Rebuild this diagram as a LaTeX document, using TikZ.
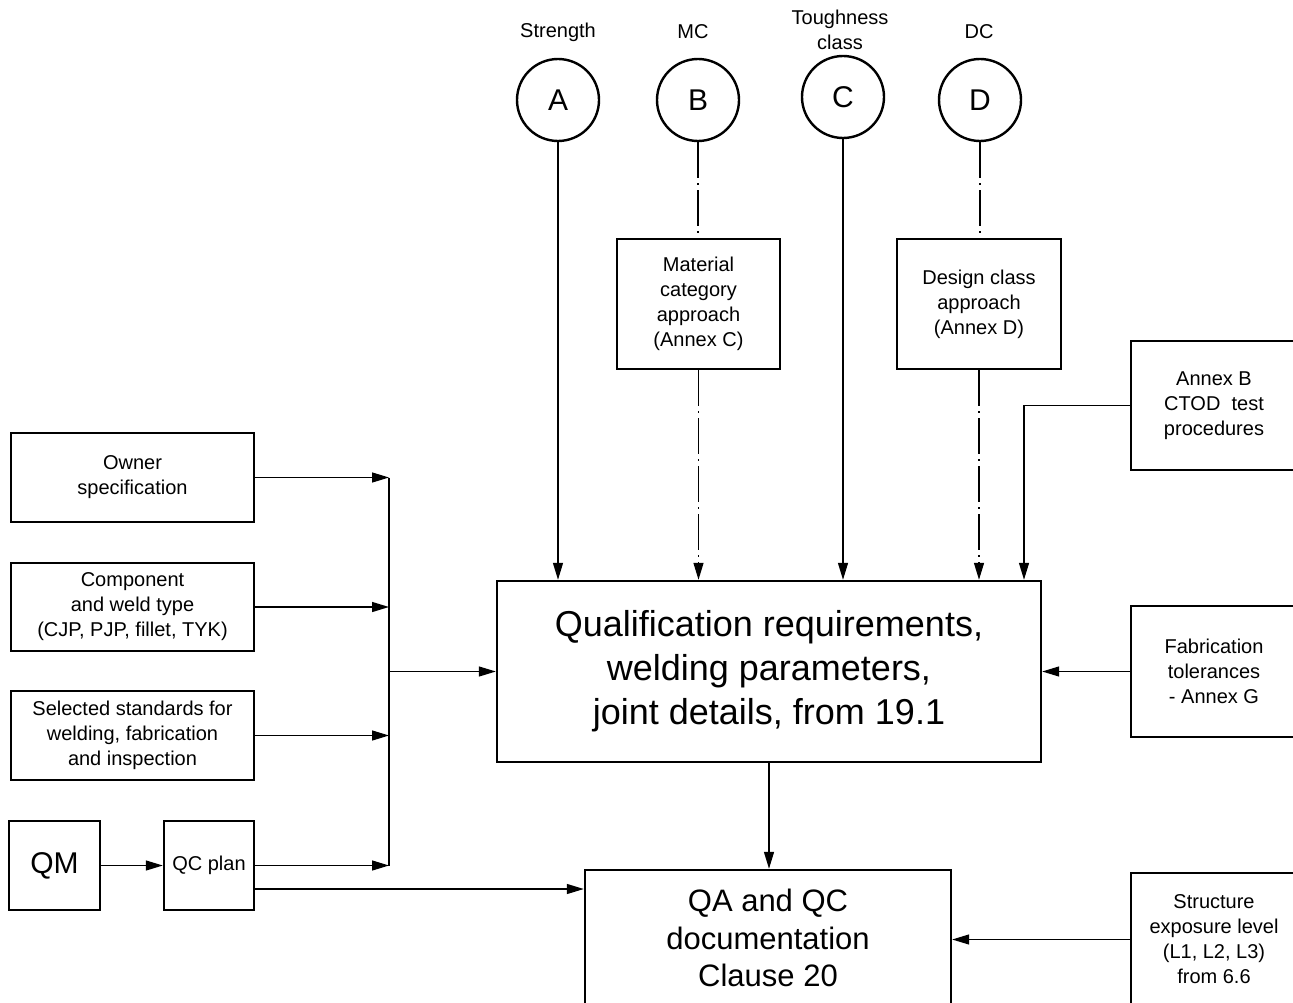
\documentclass[tikz,border=0pt]{standalone}
\usepackage{fontspec}
\setmainfont{Liberation Sans}
\usetikzlibrary{arrows.meta}
\begin{document}
\begin{tikzpicture}[x=1pt,y=-1pt,
  box/.style={draw, line width=2.4pt, inner sep=0pt, align=center, font=\fontsize{20}{25}\selectfont},
  circ/.style={draw, circle, line width=2.4pt, minimum size=82pt, inner sep=0pt, font=\fontsize{30}{30}\selectfont},
  lbl/.style={inner sep=0pt, align=center, font=\fontsize{20}{25}\selectfont},
  conn/.style={line width=1.3pt},
  arr/.style={conn, -{Triangle[length=17pt,width=10pt]}},
  dd/.style={dash pattern=on 36pt off 5pt on 2pt off 5pt}]
\useasboundingbox (0,0) rectangle (1293,1003);
% circles
\node[circ] (A) at (558,100) {A};
\node[circ] (B) at (698,100) {B};
\node[circ] (C) at (843,97) {C};
\node[circ] (D) at (980,100) {D};
\node[lbl] (lA) at (558,32) {Strength};
\node[lbl] (lB) at (693,32) {MC};
\node[lbl] (lC) at (840,30) {Toughness\\class};
\node[lbl] (lD) at (979,32) {DC};
% boxes
\node[box, minimum width=163pt, minimum height=130pt] (mat) at (698.5,304) {Material\\category\\approach\\(Annex C)};
\node[box, minimum width=164pt, minimum height=130pt] (des) at (979,304) {Design class\\approach\\(Annex D)};
\node[box, minimum width=166pt, minimum height=129pt] (anb) at (1214,405.5) {Annex B\\CTOD\ \ test\\procedures};
\node[box, minimum width=166pt, minimum height=131pt] (fab) at (1214,671.5) {Fabrication\\tolerances\\- Annex G};
\node[box, minimum width=166pt, minimum height=133pt] (str) at (1214,939.5) {Structure\\exposure level\\(L1, L2, L3)\\from 6.6};
\node[box, minimum width=544pt, minimum height=181pt, font=\fontsize{36}{44}\selectfont] (main) at (769,671.5) {Qualification requirements,\\welding parameters,\\joint details, from 19.1};
\node[box, minimum width=366pt, minimum height=136pt, font=\fontsize{31}{37.5}\selectfont] (qa) at (768,938) {QA and QC\\documentation\\Clause 20};
\node[box, minimum width=243pt, minimum height=89pt] (own) at (132.5,477.5) {Owner\\specification};
\node[box, minimum width=243pt, minimum height=88pt] (comp) at (132.5,607) {Component\\and weld type\\(CJP, PJP, fillet, TYK)};
\node[box, minimum width=243pt, minimum height=89pt] (sel) at (132.5,735.5) {Selected standards for\\welding, fabrication\\and inspection};
\node[box, minimum width=91pt, minimum height=89pt, font=\fontsize{30}{30}\selectfont] (qm) at (54.5,865.5) {QM};
\node[box, minimum width=90pt, minimum height=89pt] (qc) at (209,865.5) {QC plan};
% bus
\coordinate (bt) at (389,477.5);
\coordinate (bb) at (389,865.5);
\coordinate (bm) at (389,671.5);
\draw[conn] (bt) -- (bb);
\draw[arr] (own.east) -- (bt);
\draw[arr] (comp.east) -- (comp.east -| bt);
\draw[arr] (sel.east) -- (sel.east -| bt);
\draw[arr] (qc.east) -- (bb);
\draw[arr] (bm) -- (main.west);
\draw[arr] (qm.east) -- (qc.west);
\draw[arr] ([yshift=-23.5pt]qc.east) coordinate (q1) -- (q1 -| qa.west);
% top inputs
\draw[arr] (A.south) -- (A.south |- main.north);
\draw[conn, dd] (B.south) -- (B.south |- mat.north);
\draw[arr, dd] (mat.south) -- (mat.south |- main.north);
\draw[arr] (C.south) -- (C.south |- main.north);
\draw[conn, dd] (D.south) -- (D.south |- des.north);
\draw[arr, dd] (des.south) -- (des.south |- main.north);
\coordinate (bx) at (1024,0);
\draw[arr] (anb.west) -| (bx |- main.north);
\draw[arr] (fab.west) -- (main.east |- fab.west);
\draw[arr] (main.south) -- (main.south |- qa.north);
\draw[arr] (str.west) -- (qa.east |- str.west);
\end{tikzpicture}
\end{document}
